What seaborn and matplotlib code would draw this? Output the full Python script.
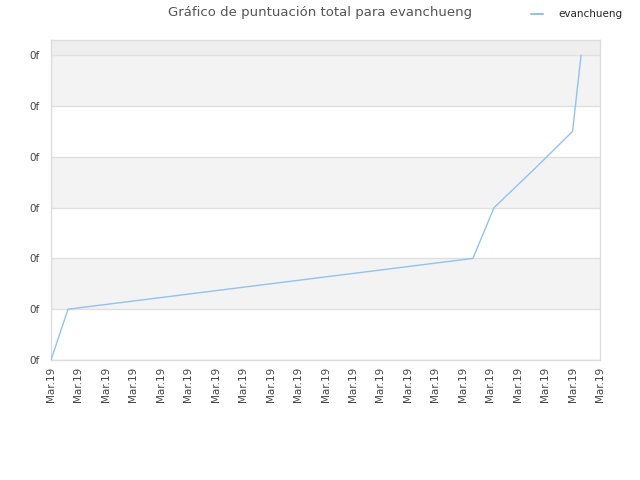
import matplotlib
matplotlib.use("Agg")
import matplotlib.pyplot as plt
import numpy as np
import pandas as pd
import seaborn as sns

# data (x in tick steps, y in tick units)
player = "evanchueng"
x_vals = [0.0, 0.62, 15.37, 16.14, 17.63, 19.0, 19.31]
y_vals = [0.0, 1.0, 2.0, 3.0, 3.77, 4.5, 6.0]
y_ticks = [0, 1, 2, 3, 4, 5, 6]
y_labels = ["0f"] * len(y_ticks)
x_ticks = list(range(21))
x_labels = ["Mar.19"] * len(x_ticks)

sns.set_style("white")
plt.rcParams['font.family'] = ['DejaVu Sans']

df = pd.DataFrame({"x": x_vals, "score": y_vals, "player": player})

fig = plt.figure(figsize=(6.4, 4.8), dpi=100)
ax = fig.add_axes([51 / 640, 120 / 480, 549 / 640, 320 / 480])

# alternating background bands
for lo in range(0, 7):
    if lo == 6:
        ax.axhspan(lo, lo + 1, color="#eeeeee", zorder=0, lw=0)
    elif lo % 2 == 1:
        ax.axhspan(lo, lo + 1, color="#f3f3f3", zorder=0, lw=0)

sns.lineplot(data=df, x="x", y="score", hue="player", palette=["#90c3f5"],
             linewidth=1.0, ax=ax, legend=False, zorder=3)

ax.set_xlim(0, 20)
ax.set_ylim(0, 6.3)
ax.set_yticks(y_ticks)
ax.set_yticklabels(y_labels)
ax.set_xticks(x_ticks)
ax.set_xticklabels(x_labels, rotation=90)
ax.tick_params(axis="both", length=0, labelsize=7.5, colors="#444444")
ax.tick_params(axis="y", pad=8)
ax.tick_params(axis="x", pad=5)
ax.set_xlabel("")
ax.set_ylabel("")
ax.yaxis.grid(True, color="#e0e0e0", linewidth=1, zorder=1)
ax.xaxis.grid(False)
ax.set_axisbelow(True)
for s in ax.spines.values():
    s.set_color("#dddddd")
    s.set_linewidth(1)

fig.suptitle("Gráfico de puntuación total para " + player, y=0.987,
             fontsize=9.5, color="#555555")

handle = plt.Line2D([], [], color="#90c3f5", linewidth=1.5)
fig.legend([handle], [player], loc="upper right", bbox_to_anchor=(0.988, 1.0),
           frameon=False, fontsize=7.5, handlelength=1.2, handletextpad=1.5)

fig.savefig("out.png", dpi=100)
